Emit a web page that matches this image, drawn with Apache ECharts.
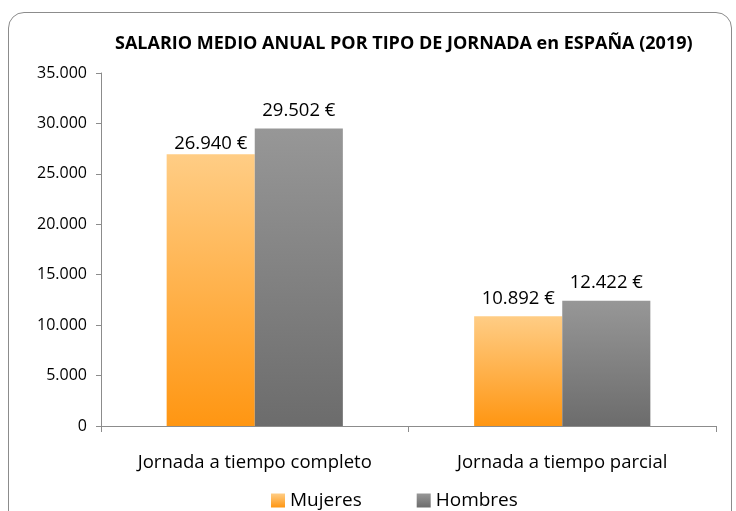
<!DOCTYPE html>
<html>
<head>
<meta charset="utf-8">
<script src="https://cdn.jsdelivr.net/npm/echarts@6/dist/echarts.min.js"></script>
<style>
html,body{margin:0;padding:0;background:#fff;}
#wrap{position:relative;width:736px;height:511px;overflow:hidden;}
#frame{position:absolute;left:8px;top:12px;width:724px;height:520px;border:1.5px solid #8c8c8c;border-radius:16px;box-sizing:border-box;}
#chart{position:absolute;left:0;top:0;width:736px;height:511px;}
</style>
</head>
<body>
<div id="wrap"><div id="frame"></div><div id="chart"></div></div>
<script>
const categories = ["Jornada a tiempo completo", "Jornada a tiempo parcial"];
const mujeres = [26940, 10892];
const hombres = [29502, 12422];
const seriesNames = ["Mujeres", "Hombres"];
const titleText = 'SALARIO MEDIO ANUAL POR TIPO DE JORNADA en ESPAÑA (2019)';
const yMin = 0, yMax = 35000, yInterval = 5000;

const FONT = '"Open Sans", "Liberation Sans", sans-serif';
function fmt(v){ return String(v).replace(/\B(?=(\d{3})+(?!\d))/g, "."); }

const TITLE_SIZE = 18;
const mctx = document.createElement('canvas').getContext('2d');
mctx.font = 'bold ' + TITLE_SIZE + 'px ' + FONT;
const titleW = mctx.measureText(titleText).width;
const titleCenter = 404;

const chart = echarts.init(document.getElementById('chart'), null, {renderer:'canvas'});
const orangeGrad = new echarts.graphic.LinearGradient(0,0,0,1,[{offset:0,color:'#FFCD85'},{offset:1,color:'#FF9612'}]);
const grayGrad = new echarts.graphic.LinearGradient(0,0,0,1,[{offset:0,color:'#979797'},{offset:1,color:'#6C6C6C'}]);
const labelBase = {show:true,position:'top',distance:8,fontFamily:FONT,fontSize:18.5,color:'#000',formatter:p=>fmt(p.value)+' €'};
chart.setOption({
  animation:false,
  title:{text:titleText,left:Math.round(titleCenter - titleW/2),top:35,padding:0,
    textStyle:{fontFamily:FONT,fontSize:TITLE_SIZE,fontWeight:'bold',color:'#000'}},
  grid:{left:101,right:20,top:73,bottom:85,containLabel:false},
  legend:{top:486,left:266,itemWidth:14,itemHeight:14,itemGap:55,icon:'rect',
    textStyle:{fontFamily:FONT,fontSize:19,color:'#000'},
    data:[{name:seriesNames[0],itemStyle:{color:orangeGrad}},{name:seriesNames[1],itemStyle:{color:grayGrad}}]},
  xAxis:{type:'category',data:categories,
    axisLine:{lineStyle:{color:'#8c8c8c',width:1}},
    axisTick:{show:true,alignWithLabel:false,length:6,lineStyle:{color:'#8c8c8c'}},
    axisLabel:{fontFamily:FONT,fontSize:18.5,color:'#000',margin:27}},
  yAxis:{type:'value',min:yMin,max:yMax,interval:yInterval,
    splitLine:{show:false},
    axisLine:{show:true,lineStyle:{color:'#8c8c8c',width:1}},
    axisTick:{show:true,length:5,lineStyle:{color:'#8c8c8c'}},
    axisLabel:{fontFamily:FONT,fontSize:16,color:'#000',margin:14,formatter:v=>fmt(v)}},
  series:[
    {name:seriesNames[0],type:'bar',
      data:mujeres.map((v,i)=> i===0 ? {value:v,label:{distance:1}} : v),
      barGap:'0%',barCategoryGap:'42.7%',
      itemStyle:{color:orangeGrad},
      label:labelBase},
    {name:seriesNames[1],type:'bar',data:hombres,barGap:'0%',barCategoryGap:'42.7%',
      itemStyle:{color:grayGrad},
      label:labelBase}
  ]
});
</script>
</body>
</html>
